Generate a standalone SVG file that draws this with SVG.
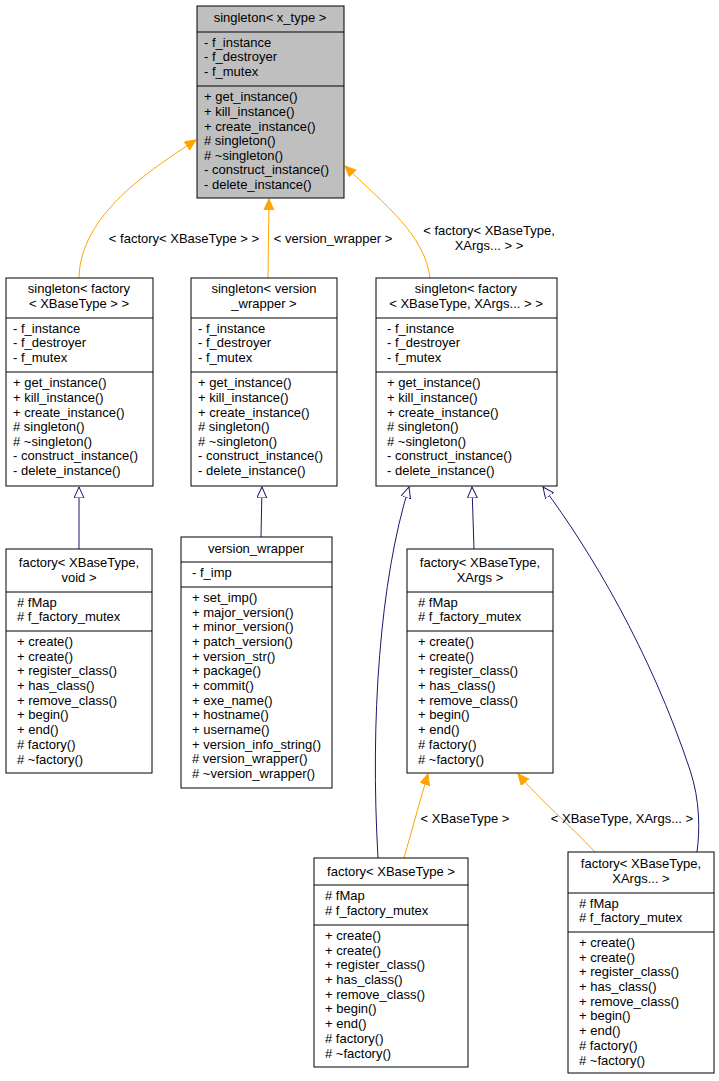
<svg xmlns="http://www.w3.org/2000/svg" width="719" height="1081" viewBox="0 0 719 1081">
<style>
text{font-family:"Liberation Sans",Arial,sans-serif;font-size:13px;fill:#000}
.c{text-anchor:middle}
.box{fill:#fff;stroke:#000;stroke-width:1}
.sep{stroke:#000;stroke-width:1}
.o{fill:none;stroke:#ffa500;stroke-width:1}
.n{fill:none;stroke:#191970;stroke-width:1}
</style>
<defs>
<marker id="ao" markerWidth="12" markerHeight="12" refX="11" refY="5" orient="auto" markerUnits="userSpaceOnUse"><path d="M0,0 L11,5 L0,10 Z" fill="#ffa500" stroke="#ffa500"/></marker>
<marker id="an" markerWidth="12" markerHeight="12" refX="11" refY="5" orient="auto" markerUnits="userSpaceOnUse"><path d="M0,0 L11,5 L0,10 Z" fill="#fff" stroke="#191970"/></marker>
</defs>
<rect width="719" height="1081" fill="#fff"/>
<g id="edges">
<path class="o" d="M79,278 C80,215 150,170 196,140" marker-end="url(#ao)"/>
<text class="c" x="184" y="243">&lt; factory&lt; XBaseType &gt; &gt;</text>
<path class="o" d="M268,278 L269,199" marker-end="url(#ao)"/>
<text class="c" x="333" y="243">&lt; version_wrapper &gt;</text>
<path class="o" d="M430,278 C425,235 385,205 345,166" marker-end="url(#ao)"/>
<text class="c" x="489" y="235">&lt; factory&lt; XBaseType,</text>
<text class="c" x="489" y="250">XArgs... &gt; &gt;</text>
<path class="n" d="M79,549 L79,487" marker-end="url(#an)"/>
<path class="n" d="M261,537 L262,487" marker-end="url(#an)"/>
<path class="n" d="M474,549 L472,487" marker-end="url(#an)"/>
<path class="n" d="M378,858 C370,720 380,580 409,487" marker-end="url(#an)"/>
<path class="n" d="M697,852 C700,830 700,800 690,770 C650,650 590,550 543,487" marker-end="url(#an)"/>
<path class="o" d="M404,858 C412,830 420,800 428,774" marker-end="url(#ao)"/>
<text class="c" x="465" y="823">&lt; XBaseType &gt;</text>
<path class="o" d="M595,852 C570,825 540,800 518,774" marker-end="url(#ao)"/>
<text class="c" x="622" y="823">&lt; XBaseType, XArgs... &gt;</text>
</g>
<g id="singleton_x_type">
<rect x="197" y="6" width="147" height="192" fill="#bfbfbf" stroke="#000"/>
<line class="sep" x1="197" y1="32" x2="344" y2="32"/><line class="sep" x1="197" y1="86" x2="344" y2="86"/>
<text class="c" x="270" y="22">singleton&lt; x_type &gt;</text>
<text x="204" y="47">- f_instance</text><text x="204" y="61">- f_destroyer</text><text x="204" y="76">- f_mutex</text>
<text x="204" y="101">+ get_instance()</text><text x="204" y="116">+ kill_instance()</text><text x="204" y="131">+ create_instance()</text><text x="204" y="145"># singleton()</text><text x="204" y="160"># ~singleton()</text><text x="204" y="174">- construct_instance()</text><text x="204" y="189">- delete_instance()</text>
</g>
<g id="singleton_factory_xbasetype">
<rect class="box" x="6" y="278" width="147" height="208"/>
<line class="sep" x1="6" y1="318" x2="153" y2="318"/><line class="sep" x1="6" y1="372" x2="153" y2="372"/>
<text class="c" x="79" y="293">singleton&lt; factory</text><text class="c" x="79" y="308">&lt; XBaseType &gt; &gt;</text>
<text x="13" y="333">- f_instance</text><text x="13" y="347">- f_destroyer</text><text x="13" y="362">- f_mutex</text>
<text x="13" y="387">+ get_instance()</text><text x="13" y="402">+ kill_instance()</text><text x="13" y="417">+ create_instance()</text><text x="13" y="431"># singleton()</text><text x="13" y="446"># ~singleton()</text><text x="13" y="460">- construct_instance()</text><text x="13" y="475">- delete_instance()</text>
</g>
<g id="singleton_version_wrapper">
<rect class="box" x="191" y="278" width="146" height="208"/>
<line class="sep" x1="191" y1="318" x2="337" y2="318"/><line class="sep" x1="191" y1="372" x2="337" y2="372"/>
<text class="c" x="264" y="293">singleton&lt; version</text><text class="c" x="264" y="308">_wrapper &gt;</text>
<text x="198" y="333">- f_instance</text><text x="198" y="347">- f_destroyer</text><text x="198" y="362">- f_mutex</text>
<text x="198" y="387">+ get_instance()</text><text x="198" y="402">+ kill_instance()</text><text x="198" y="417">+ create_instance()</text><text x="198" y="431"># singleton()</text><text x="198" y="446"># ~singleton()</text><text x="198" y="460">- construct_instance()</text><text x="198" y="475">- delete_instance()</text>
</g>
<g id="singleton_factory_xargs">
<rect class="box" x="376" y="278" width="181" height="208"/>
<line class="sep" x1="376" y1="318" x2="557" y2="318"/><line class="sep" x1="376" y1="372" x2="557" y2="372"/>
<text class="c" x="466" y="293">singleton&lt; factory</text><text class="c" x="466" y="308">&lt; XBaseType, XArgs... &gt; &gt;</text>
<text x="387" y="333">- f_instance</text><text x="387" y="347">- f_destroyer</text><text x="387" y="362">- f_mutex</text>
<text x="387" y="387">+ get_instance()</text><text x="387" y="402">+ kill_instance()</text><text x="387" y="417">+ create_instance()</text><text x="387" y="431"># singleton()</text><text x="387" y="446"># ~singleton()</text><text x="387" y="460">- construct_instance()</text><text x="387" y="475">- delete_instance()</text>
</g>
<g id="factory_void">
<rect class="box" x="6" y="549" width="146" height="224"/>
<line class="sep" x1="6" y1="592" x2="152" y2="592"/><line class="sep" x1="6" y1="631" x2="152" y2="631"/>
<text class="c" x="79" y="567">factory&lt; XBaseType,</text><text class="c" x="79" y="582">void &gt;</text>
<text x="17" y="607"># fMap</text><text x="17" y="621"># f_factory_mutex</text>
<text x="17" y="646">+ create()</text><text x="17" y="661">+ create()</text><text x="17" y="675">+ register_class()</text><text x="17" y="690">+ has_class()</text><text x="17" y="705">+ remove_class()</text><text x="17" y="719">+ begin()</text><text x="17" y="734">+ end()</text><text x="17" y="749"># factory()</text><text x="17" y="764"># ~factory()</text>
</g>
<g id="version_wrapper">
<rect class="box" x="181" y="537" width="151" height="251"/>
<line class="sep" x1="181" y1="562" x2="332" y2="562"/><line class="sep" x1="181" y1="587" x2="332" y2="587"/>
<text class="c" x="256" y="553">version_wrapper</text>
<text x="192" y="577">- f_imp</text>
<text x="192" y="602">+ set_imp()</text><text x="192" y="617">+ major_version()</text><text x="192" y="631">+ minor_version()</text><text x="192" y="646">+ patch_version()</text><text x="192" y="661">+ version_str()</text><text x="192" y="675">+ package()</text><text x="192" y="690">+ commit()</text><text x="192" y="705">+ exe_name()</text><text x="192" y="719">+ hostname()</text><text x="192" y="734">+ username()</text><text x="192" y="749">+ version_info_string()</text><text x="192" y="763"># version_wrapper()</text><text x="192" y="778"># ~version_wrapper()</text>
</g>
<g id="factory_xargs">
<rect class="box" x="407" y="549" width="146" height="224"/>
<line class="sep" x1="407" y1="592" x2="553" y2="592"/><line class="sep" x1="407" y1="631" x2="553" y2="631"/>
<text class="c" x="480" y="567">factory&lt; XBaseType,</text><text class="c" x="480" y="582">XArgs &gt;</text>
<text x="418" y="607"># fMap</text><text x="418" y="621"># f_factory_mutex</text>
<text x="418" y="646">+ create()</text><text x="418" y="661">+ create()</text><text x="418" y="675">+ register_class()</text><text x="418" y="690">+ has_class()</text><text x="418" y="705">+ remove_class()</text><text x="418" y="719">+ begin()</text><text x="418" y="734">+ end()</text><text x="418" y="749"># factory()</text><text x="418" y="764"># ~factory()</text>
</g>
<g id="factory_xbasetype">
<rect class="box" x="314" y="858" width="154" height="209"/>
<line class="sep" x1="314" y1="885" x2="468" y2="885"/><line class="sep" x1="314" y1="925" x2="468" y2="925"/>
<text class="c" x="391" y="876">factory&lt; XBaseType &gt;</text>
<text x="325" y="900"># fMap</text><text x="325" y="915"># f_factory_mutex</text>
<text x="325" y="940">+ create()</text><text x="325" y="955">+ create()</text><text x="325" y="969">+ register_class()</text><text x="325" y="984">+ has_class()</text><text x="325" y="999">+ remove_class()</text><text x="325" y="1013">+ begin()</text><text x="325" y="1028">+ end()</text><text x="325" y="1043"># factory()</text><text x="325" y="1058"># ~factory()</text>
</g>
<g id="factory_xargs_pack">
<rect class="box" x="568" y="852" width="146" height="221"/>
<line class="sep" x1="568" y1="893" x2="714" y2="893"/><line class="sep" x1="568" y1="932" x2="714" y2="932"/>
<text class="c" x="641" y="868">factory&lt; XBaseType,</text><text class="c" x="641" y="883">XArgs... &gt;</text>
<text x="579" y="908"># fMap</text><text x="579" y="922"># f_factory_mutex</text>
<text x="579" y="947">+ create()</text><text x="579" y="962">+ create()</text><text x="579" y="976">+ register_class()</text><text x="579" y="991">+ has_class()</text><text x="579" y="1006">+ remove_class()</text><text x="579" y="1020">+ begin()</text><text x="579" y="1035">+ end()</text><text x="579" y="1050"># factory()</text><text x="579" y="1065"># ~factory()</text>
</g>
</svg>
